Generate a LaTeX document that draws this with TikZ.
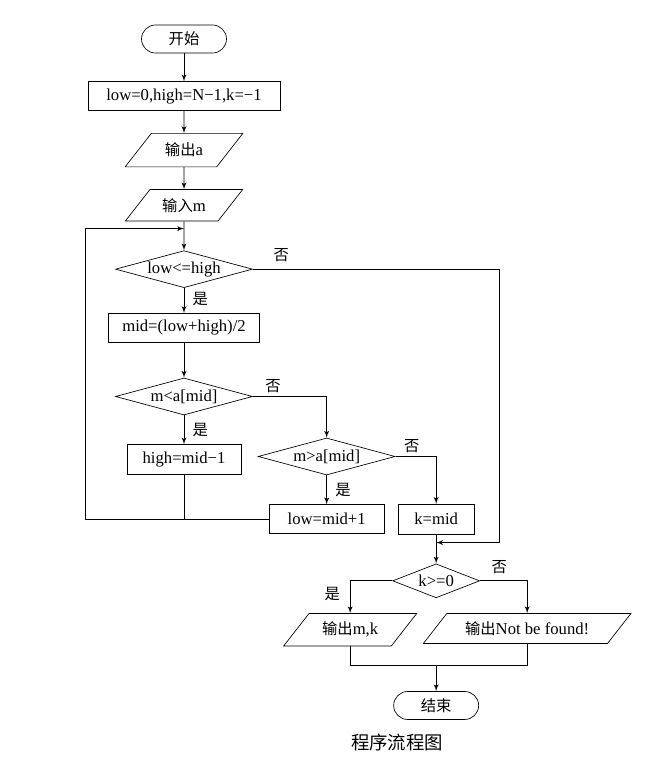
\documentclass[tikz,border=0pt]{standalone}
\usepackage{fontspec}
\setmainfont{Liberation Serif}
\newfontfamily\cjk{Noto Sans CJK SC}[Scale=0.92]
\usepackage{tikz}
\usetikzlibrary{shapes,arrows,positioning,calc}
\tikzstyle{startstop} = [rectangle, draw, rounded corners=8.4pt, minimum width=51pt, minimum height=16.8pt, text centered, font=\cjk]
\tikzstyle{block} = [rectangle, draw, minimum height=17.4pt, text centered]
\tikzstyle{io} = [trapezium, trapezium left angle=52, trapezium right angle=128, draw, minimum height=18pt, text centered]
\tikzstyle{decision} = [diamond, draw, inner sep=0pt, aspect=3.7, minimum width=82.2pt, minimum height=22.2pt, text centered]
\tikzstyle{lbl} = [font=\cjk, inner sep=2pt]
\tikzstyle{line} = [draw, -latex', node distance = 0.1cm, auto]

\begin{document}
\begin{tikzpicture}[x=0.6pt, y=-0.6pt]
    \useasboundingbox (0,0) rectangle (652,757);
    \node [startstop] (start) at (184,39) {开始};
    \node [block, minimum width=115.2pt, below=16.8pt of start] (init) {low=0,high=N−1,k=−1};
    \node [io, minimum width=70.8pt, below=13.2pt of init] (outa) {{\cjk 输出}a};
    \node [io, minimum width=70.8pt, below=13.2pt of outa] (inm) {{\cjk 输入}m};
    \node [decision, below=17.4pt of inm] (lowhigh) {low<=high};
    \node [block, minimum width=90.6pt, below=15pt of lowhigh] (mid) {mid=(low+high)/2};
    \node [decision, below=21pt of mid] (less) {m<a[mid]};
    \node [block, minimum width=68.4pt, minimum height=18pt, below=17.4pt of less] (high) {high=mid−1};
    \node [decision, right=3pt of less, yshift=-36pt] (greater) {m>a[mid]};
    \node [block, minimum width=69pt, below=17.4pt of greater] (low) {low=mid+1};
    \node [block, minimum width=45.6pt, minimum height=18pt, right=8pt of low] (kmid) {k=mid};
    \node [decision, aspect=2.5, minimum width=52.2pt, minimum height=20.4pt, below=17.4pt of kmid] (found) {k>=0};
    \node [io, minimum width=80.4pt, below=9pt of found, xshift=-51.6pt] (outmk) {{\cjk 输出}m,k};
    \node [io, minimum width=119.4pt, below=9pt of found, xshift=54.6pt] (outnf) {{\cjk 输出}Not be found!};
    \node [startstop, below=55.8pt of found] (end) {结束};
    \node [below=5pt of end, xshift=-23.4pt, font=\large\cjk] (title) {程序流程图};
    % main column
    \path [line] (start) -- (init);
    \path [line] (init) -- (outa);
    \path [line] (outa) -- (inm);
    \path [line] (inm) -- (lowhigh);
    \path [line] (lowhigh) -- node[lbl, right, pos=0.45, xshift=3pt]{是} (mid);
    \path [line] (mid) -- (less);
    \path [line] (less) -- node[lbl, right, xshift=3pt]{是} (high);
    % loop back
    \coordinate (loopin) at ($(inm.south)!0.25!(lowhigh.north)$);
    \coordinate (loopleft) at ([xshift=-59.4pt]loopin);
    \path [line] (low.west) -| (loopleft) -- (loopin);
    \draw (high.south) -- (high.south |- low.west);
    % right branches
    \path [line] (less.east) -| node[lbl, above right, pos=0.06]{否} (greater.north);
    \path [line] (greater) -- node[lbl, right, xshift=3pt]{是} (low);
    \path [line] (greater.east) -| node[lbl, above right, pos=0.06]{否} (kmid.north);
    \coordinate (kjoin) at ($(kmid.south)!0.28!(found.north)$);
    \coordinate (noright) at ([xshift=147.6pt]lowhigh.east);
    \path [line] (lowhigh.east) -- node[lbl, above right, pos=0.07, yshift=2pt]{否} (noright) |- (kjoin);
    \path [line] (kmid) -- (found);
    % output
    \path [line] (found.west) -| node[lbl, left, pos=0.7, xshift=-4pt]{是} (outmk.north);
    \path [line] (found.east) -| node[lbl, above right, pos=0.085, yshift=2pt]{否} (outnf.north);
    \coordinate (merge) at ($(outmk.south -| end.north)+(0,-11.4pt)$);
    \draw (outmk.south) |- (merge) -| (outnf.south);
    \path [line] (merge) -- (end);
\end{tikzpicture}
\end{document}
